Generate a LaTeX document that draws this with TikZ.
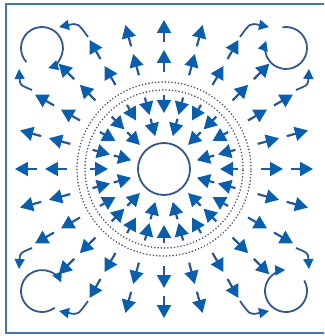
\documentclass[tikz,border=0pt]{standalone}
\usepackage{tikz}
\usetikzlibrary{arrows.meta}
\definecolor{headink}{RGB}{10, 94, 174}
\definecolor{shaftink}{RGB}{38, 88, 150}
\definecolor{ringink}{RGB}{50, 86, 142}
\definecolor{dotink}{RGB}{72, 88, 120}
\definecolor{frameink}{RGB}{70, 118, 178}

\begin{document}
\begin{tikzpicture}[x=1pt, y=1pt,
  fieldarrow/.style={line width=2.2pt, shaftink, -{Triangle[length=13pt 0 0, width=14pt 0, color=headink]}},
  swirl/.style={line width=1.8pt, ringink, -{Triangle[length=10pt 0 0, width=10pt 0, color=headink]}},
  dotring/.style={dotink, line width=1.8pt, dash pattern=on 0pt off 3.3pt, line cap=round}]
  \useasboundingbox (-164,-167) rectangle (160,169);
  \clip (-164,-167) rectangle (160,169);
  \draw[frameink, line width=2pt] (-158,-164) rectangle (200,164.5);
  % source region: two dotted rings and the core
  \draw[dotring] (0,0) circle (79);
  \draw[dotring] (0,0) circle (87);
  \draw[ringink, line width=1.8pt] (0,0) circle (26);
  % inward arrows inside the rings, outward arrows outside
  \foreach \a in {0,15,...,345} {
    \draw[fieldarrow] (\a:74) -- (\a:56);
    \draw[fieldarrow] (\a:97) -- (\a:119);
    \draw[fieldarrow] (\a:127) -- (\a:149);
  }
  \foreach \a in {15,45,...,345}
    \draw[fieldarrow] (\a:52) -- (\a:34);
  % corner vortices
  \draw[swirl] (-122,121) ++(222:21) arc[start angle=222, end angle=-73, radius=21];
  \draw[swirl] (122,121) ++(100:21) arc[start angle=100, end angle=-200, radius=21];
  \draw[swirl] (122,-122) ++(30:21) arc[start angle=30, end angle=-268, radius=21];
  \draw[swirl] (-122,-122) ++(-53:21) arc[start angle=-53, end angle=-336, radius=21];
  % bent arrows beside them
  \draw[swirl] (-76,132) .. controls (-86,146) .. (-105,142);
  \draw[swirl] (-132,79) .. controls (-144,84) .. (-145,100);
  \draw[swirl] (76,132) .. controls (86,146) .. (105,142);
  \draw[swirl] (132,79) .. controls (144,84) .. (145,100);
  \draw[swirl] (132,-79) .. controls (144,-84) .. (145,-100);
  \draw[swirl] (76,-132) .. controls (86,-146) .. (105,-142);
  \draw[swirl] (-132,-79) .. controls (-144,-84) .. (-145,-100);
  \draw[swirl] (-76,-132) .. controls (-86,-146) .. (-105,-142);
\end{tikzpicture}
\end{document}
